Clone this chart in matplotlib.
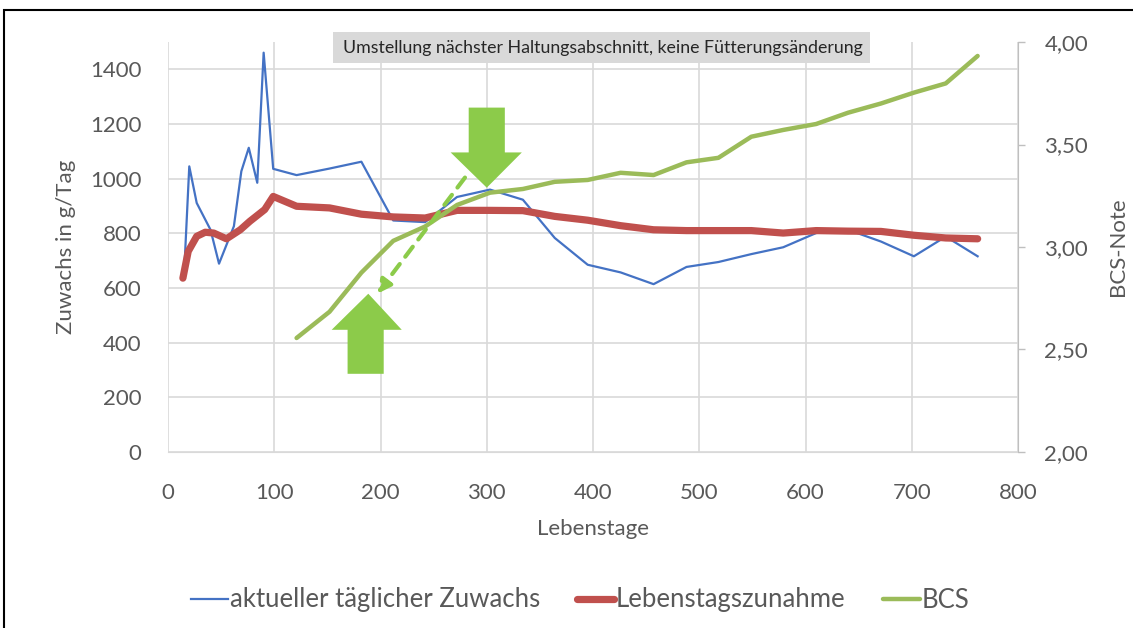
"""Lebenstage vs. Zuwachs / BCS chart (Excel-style) recreated with matplotlib."""
import matplotlib
matplotlib.use("Agg")
import matplotlib.pyplot as plt
from matplotlib.patches import Polygon, Rectangle
from matplotlib.ticker import FuncFormatter

plt.rcParams["font.family"] = ["Lato", "DejaVu Sans"]

# ── Data ──────────────────────────────────────────────────────────────────────
days_daily = [15, 20, 27, 40, 48, 62, 69, 76, 84, 90, 99, 121, 152, 182, 212,
              242, 272, 303, 334, 364, 395, 426, 457, 488, 518, 549, 579, 610,
              640, 671, 702, 732, 762]
gain_daily = [640, 1045, 911, 813, 689, 826, 1027, 1113, 985, 1461, 1036, 1013,
              1037, 1062, 847, 841, 933, 960, 923, 783, 685, 657, 614, 677,
              695, 724, 749, 801, 813, 770, 716, 788, 716]

days_life = [14, 19, 27, 35, 43, 55, 68, 77, 91, 99, 121, 152, 182, 212, 242,
             272, 303, 334, 364, 395, 426, 457, 488, 518, 549, 579, 610, 640,
             671, 702, 732, 762]
gain_life = [636, 734, 789, 804, 801, 780, 813, 844, 887, 935, 899, 893, 870,
             860, 856, 884, 884, 883, 862, 848, 828, 813, 810, 810, 810, 801,
             810, 808, 807, 793, 783, 780]

days_bcs = [121, 152, 182, 212, 242, 272, 303, 334, 364, 395, 426, 457, 488,
            518, 549, 579, 610, 640, 671, 702, 732, 762]
bcs = [2.556, 2.684, 2.875, 3.03, 3.10, 3.205, 3.265, 3.283, 3.318, 3.327,
       3.362, 3.351, 3.413, 3.435, 3.538, 3.571, 3.600, 3.655, 3.700, 3.753,
       3.798, 3.932]

x_ticks = [0, 100, 200, 300, 400, 500, 600, 700, 800]
y_ticks = [0, 200, 400, 600, 800, 1000, 1200, 1400]
bcs_ticks = [2.0, 2.5, 3.0, 3.5, 4.0]

# ── Styles ────────────────────────────────────────────────────────────────────
BLUE = "#4472C4"
RED = "#C0504D"
GREEN = "#9BBB59"
ARROW = "#8CCB4A"
TXT = "#595959"
GRID = "#D9D9D9"

fig = plt.figure(figsize=(11.33, 6.28), dpi=100)
ax = fig.add_axes([0.1483, 0.2803, 0.7502, 0.6528])
ax2 = ax.twinx()

ax.set_xlim(0, 800)
ax.set_ylim(0, 1500)
ax2.set_ylim(2.0, 4.0)
ax.set_xticks(x_ticks)
ax.set_yticks(y_ticks)
ax2.set_yticks(bcs_ticks)
ax2.yaxis.set_major_formatter(FuncFormatter(lambda v, p: f"{v:.2f}".replace(".", ",")))

ax.grid(True, color=GRID, lw=1.2)
ax.set_axisbelow(True)
for a in (ax, ax2):
    for s in ("top", "left", "bottom", "right"):
        a.spines[s].set_visible(False)
ax.spines["bottom"].set_visible(True)
ax.spines["bottom"].set_color(GRID)
ax2.spines["right"].set_visible(True)
ax2.spines["right"].set_color("#BFBFBF")

ax.tick_params(axis="x", length=0, pad=22, labelsize=16, labelcolor=TXT)
ax.tick_params(axis="y", length=0, pad=19, labelsize=16, labelcolor=TXT)
ax2.tick_params(axis="y", length=5, width=1, color="#BFBFBF", pad=14,
                labelsize=16, labelcolor=TXT)

ax.set_xlabel("Lebenstage", fontsize=16, color=TXT, labelpad=12)
ax.set_ylabel("Zuwachs in g/Tag", fontsize=16, color=TXT, labelpad=10)
ax2.set_ylabel("BCS-Note", fontsize=16, color=TXT, labelpad=14)

# ── Series ────────────────────────────────────────────────────────────────────
l1, = ax.plot(days_daily, gain_daily, color=BLUE, lw=1.6,
              label="aktueller täglicher Zuwachs")
l2, = ax.plot(days_life, gain_life, color=RED, lw=5.2, solid_capstyle="round",
              solid_joinstyle="round", label="Lebenstagszunahme")
l3, = ax2.plot(days_bcs, bcs, color=GREEN, lw=3.2, solid_capstyle="round",
               solid_joinstyle="round", label="BCS")

# ── Annotations (in left-axis data units) ─────────────────────────────────────
T = ax.transData
down = [(283, 1260), (317, 1260), (317, 1096), (333, 1096), (300, 967),
        (266, 1096), (283, 1096)]
up = [(169, 286), (203, 286), (203, 447), (220, 447), (188.5, 579),
      (154, 447), (169, 447)]
for pts in (down, up):
    ax2.add_patch(Polygon(pts, closed=True, transform=T, facecolor=ARROW,
                          edgecolor="none", zorder=5))

ax2.annotate("", xy=(197, 579), xytext=(279.5, 1004),
             xycoords=T, textcoords=T,
             arrowprops=dict(arrowstyle="-|>", color=ARROW, lw=3,
                             linestyle=(0, (3, 2.2)), mutation_scale=20,
                             shrinkA=0, shrinkB=0),
             zorder=5)

# title box
fig.patches.append(Rectangle((333 / 1133, 1 - 63 / 628), 537 / 1133, 31 / 628,
                             transform=fig.transFigure, facecolor="#D9D9D9",
                             edgecolor="none", zorder=3))
fig.text(603 / 1133, 1 - 48 / 628,
         "Umstellung nächster Haltungsabschnitt, keine Fütterungsänderung",
         ha="center", va="center", fontsize=12.8, color="#262626", zorder=4)

# frame (left + top edges visible)
fig.patches.append(Rectangle((4 / 1133, -0.1), 1.2, 1.1 - 10.5 / 628,
                             transform=fig.transFigure, facecolor="none",
                             edgecolor="black", lw=1.5, zorder=10))

fig.legend(handles=[l1, l2, l3], loc="center",
           bbox_to_anchor=(580 / 1133, 1 - 600 / 628), ncol=3, frameon=False,
           fontsize=18.5, labelcolor=TXT, handlelength=1.45, handletextpad=0.05,
           columnspacing=1.45)

fig.savefig("out.png", dpi=100, facecolor="white")
